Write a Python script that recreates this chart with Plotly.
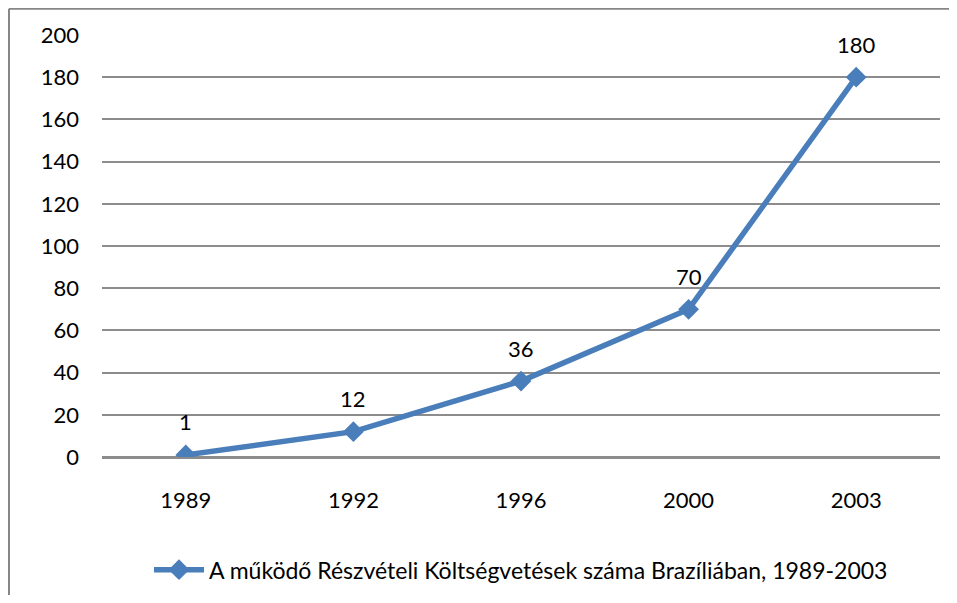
import plotly.graph_objects as go

years = ['1989', '1992', '1996', '2000', '2003']
counts = [1, 12, 36, 70, 180]
series_name = 'A működő Részvételi Költségvetések száma Brazíliában, 1989-2003'
y_ticks = list(range(0, 201, 20))

blue = '#4A7EBB'
grid = '#8C8C8C'
font = 'Lato, Calibri, sans-serif'
fsize = 22

# page body has an 8px margin, so the figure is sized to fit the window
fig = go.Figure()
fig.add_trace(go.Scatter(
    x=years, y=counts, name=series_name,
    mode='lines+markers',
    line=dict(color=blue, width=5.5),
    marker=dict(symbol='diamond', size=16, color=blue),
))

# data labels above each point (category index as x)
for i, v in enumerate(counts):
    fig.add_annotation(x=i, y=v, xref='x', yref='y', text=str(v),
                       showarrow=False, yshift=33,
                       font=dict(size=fsize, color='#000000', family=font))

# outer chart border: only left and top edges are inside the picture
border = dict(color='#868686', width=2)
fig.add_shape(type='line', xref='paper', yref='paper',
              x0=-0.111, x1=-0.111, y0=-0.6, y1=1.062, line=border, layer='below')
fig.add_shape(type='line', xref='paper', yref='paper',
              x0=-0.111, x1=1.2, y0=1.062, y1=1.062, line=border, layer='below')

fig.update_xaxes(type='category', range=[-0.5, 4.5], showgrid=False,
                 showline=False, ticks='', ticklabelstandoff=28,
                 tickfont=dict(size=fsize, color='#000000', family=font))
fig.update_yaxes(range=[0, 200], tickvals=y_ticks, showgrid=True,
                 gridcolor=grid, gridwidth=1.5, zeroline=True,
                 zerolinecolor=grid, zerolinewidth=3, showline=False,
                 ticks='', ticklabelstandoff=22,
                 tickfont=dict(size=fsize, color='#000000', family=font))

fig.update_layout(
    width=941, height=587,
    margin=dict(l=94, r=9, t=27, b=138),
    paper_bgcolor='white', plot_bgcolor='white',
    showlegend=True,
    legend=dict(orientation='h', x=0.5, xanchor='center',
                yref='container', y=0.043, yanchor='middle',
                font=dict(size=23, color='#000000', family=font),
                itemwidth=50),
)

fig.write_html("out.html")
